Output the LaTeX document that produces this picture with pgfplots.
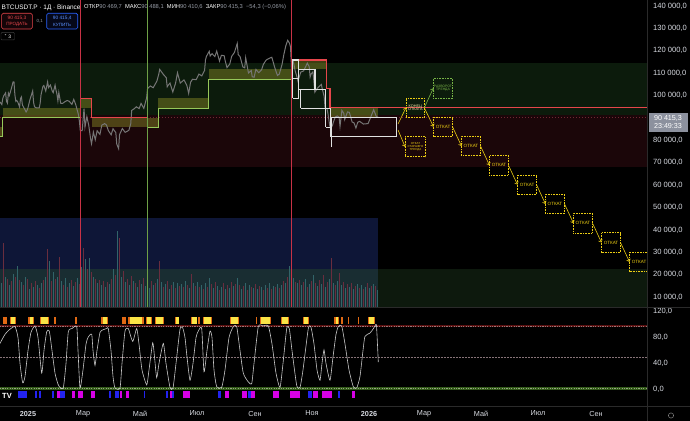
\documentclass[border=0pt]{standalone}
\usepackage{pgfplots}
\pgfplotsset{compat=1.18}
\usepackage{fontspec}
\setmainfont{Liberation Sans}
\newfontfamily\dejavu{DejaVu Sans}
\usetikzlibrary{arrows.meta}
\definecolor{zgreen}{RGB}{12,27,12}
\definecolor{zred}{RGB}{27,6,9}
\definecolor{zgreen2}{RGB}{13,25,13}
\definecolor{navy}{RGB}{14,22,55}
\definecolor{navyteal}{RGB}{25,45,50}
\definecolor{olive}{RGB}{150,150,40}
\definecolor{stepg}{RGB}{150,200,90}
\definecolor{stepr}{RGB}{230,70,75}
\definecolor{cand}{RGB}{118,118,118}
\definecolor{wbox}{RGB}{225,225,225}
\definecolor{yel}{RGB}{235,205,20}
\definecolor{grn}{RGB}{120,180,70}
\definecolor{vteal}{RGB}{50,100,105}
\definecolor{vred}{RGB}{105,45,62}
\definecolor{vlred}{RGB}{200,50,70}
\definecolor{vlgreen}{RGB}{110,160,70}
\definecolor{hmo}{RGB}{225,105,20}
\definecolor{hmy}{RGB}{250,228,70}
\definecolor{sblue}{RGB}{35,35,240}
\definecolor{smag}{RGB}{215,0,230}
\definecolor{lbl}{RGB}{215,218,225}
\definecolor{sepc}{RGB}{42,42,42}
\definecolor{oscline}{RGB}{200,200,200}
\definecolor{band}{RGB}{90,15,15}
\definecolor{gband}{RGB}{50,90,25}
\definecolor{hdrgrey}{RGB}{150,155,165}
\definecolor{pricebox}{RGB}{140,145,158}
\definecolor{pline}{RGB}{110,40,50}
\definecolor{bandd}{RGB}{150,120,120}
\definecolor{midd}{RGB}{135,115,120}
\definecolor{gbandd}{RGB}{150,165,130}
\definecolor{konec}{RGB}{245,235,170}
\definecolor{sellbg}{RGB}{20,5,8}
\definecolor{buyc}{RGB}{41,98,255}
\definecolor{buybg}{RGB}{5,8,25}
\definecolor{buyt}{RGB}{90,145,255}
\definecolor{smallb}{RGB}{60,60,60}
\definecolor{gearc}{RGB}{130,130,130}
\newcommand\fs[1]{\fontsize{#1}{#1}\selectfont}
\newcommand\frect[5]{\addplot[draw=none,fill=#1] coordinates {(#2,#4)(#3,#4)(#3,#5)(#2,#5)};}
\newcommand\orect[4]{\addplot[draw=none,fill=olive,fill opacity=0.42] coordinates {(#1,#3)(#2,#3)(#2,#4)(#1,#4)};}
\newcommand\brect[5]{\addplot[#1] coordinates {(#2,#4)(#3,#4)(#3,#5)(#2,#5)(#2,#4)};}
\newcommand\hbo[2]{\addplot[draw=none,fill=hmo] coordinates {(#1,101)(#2,101)(#2,112.3)(#1,112.3)};}
\newcommand\hby[2]{\addplot[draw=none,fill=hmy] coordinates {(#1,101)(#2,101)(#2,112.3)(#1,112.3)};}
\newcommand\sbb[2]{\addplot[draw=none,fill=sblue] coordinates {(#1,-2.6)(#2,-2.6)(#2,-13.5)(#1,-13.5)};}
\newcommand\sbm[2]{\addplot[draw=none,fill=smag] coordinates {(#1,-2.6)(#2,-2.6)(#2,-13.5)(#1,-13.5)};}
\tikzset{ybox/.style={yel,line width=0.7bp,dash pattern=on 0.8bp off 0.8bp},
 yarr/.style={yel,line width=0.6bp,-{Straight Barb[length=2.2bp,width=4bp]}}}
\begin{document}
\begin{tikzpicture}
\fill[black] (0bp,0bp) rectangle (690bp,421bp);
% ---------------- price pane ----------------
\begin{axis}[at={(0bp,114bp)},anchor=south west,scale only axis,width=647bp,height=307bp,
 xmin=-29.97,xmax=662.6,ymin=5625,ymax=142679,
 axis line style={draw=none},major tick length=0pt,xtick=\empty,
 yticklabel pos=right,scaled y ticks=false,
 ytick={10000,20000,30000,40000,50000,60000,70000,80000,100000,110000,120000,130000,140000},
 yticklabels={{10 000,0},{20 000,0},{30 000,0},{40 000,0},{50 000,0},{60 000,0},{70 000,0},{80 000,0},{100 000,0},{110 000,0},{120 000,0},{130 000,0},{140 000,0}},
 yticklabel style={anchor=west,inner sep=0pt,xshift=6bp,font=\fs{7.6},text=lbl}]
\frect{zgreen}{-30}{663}{91500}{114700}
\frect{zred}{-30}{663}{68100}{91500}
\frect{zgreen2}{-30}{663}{4000}{22600}
\addplot[pline,line width=0.5bp,dash pattern=on 1.5bp off 1.5bp] coordinates {(-30,90415)(663,90415)};
% olive bands
\orect{-30}{-26.8}{81700}{85800}
\orect{-26.8}{55.7}{90100}{94300}
\orect{55.7}{68.5}{94300}{98800}
\orect{68.5}{139.2}{85800}{90100}
\orect{139.2}{193.7}{94300}{98800}
\orect{193.7}{282.3}{107400}{111700}
\orect{282.3}{319.7}{111700}{115900}
\orect{323.3}{374.6}{90300}{94600}
% price (daily closes)
\addplot[cand,line width=1bp] coordinates {
(-30,97200)(-28,96000)(-27,98700)(-26,99900)(-24,101200)(-23,97400)(-22,96600)(-21,101100)(-20,100000)(-19,101400)
(-17,104400)(-16,106100)(-15,106100)(-14,100200)(-13,97400)(-12,97800)(-11,97200)(-9,94900)(-8,98700)(-7,99400)
(-6,95800)(-4,94300)(-2,92700)(-1,93400)(0,94600)(2,98100)(5,102100)(6,96900)(7,95000)(9,94500)
(12,94500)(13,96500)(14,100500)(16,104100)(17,104500)(19,102000)(21,106100)(22,103600)(24,104700)(26,102000)
(27,101300)(29,104700)(30,102400)(31,100600)(32,97700)(33,101400)(35,96600)(37,96500)(40,97400)(42,97800)
(44,97500)(47,96100)(49,98300)(51,96100)(54,91500)(55,88700)(56,84300)(58,84400)(60,94200)(61,86000)
(63,90600)(65,86800)(67,80700)(68,78500)(70,83700)(72,80300)(74,84300)(77,82700)(79,86800)(82,87500)
(84,86900)(86,84400)(89,82500)(91,85200)(94,83500)(95,78400)(97,76300)(98,82600)(101,85300)(104,83600)
(108,84500)(110,87500)(111,93400)(113,93900)(116,95000)(119,94200)(121,96500)(124,94300)(127,99000)(128,103200)
(131,104300)(134,103500)(138,106500)(140,109600)(141,111700)(145,109400)(148,108000)(149,103900)(150,104600)(152,105600)
(155,101600)(158,105600)(160,110200)(163,105600)(167,107000)(170,104600)(172,101000)(174,105900)(176,107300)(180,107100)
(183,109600)(186,108800)(189,111200)(190,116000)(191,117500)(194,119800)(195,117700)(197,118700)(200,117400)(202,119900)
(205,115400)(207,118000)(210,117800)(211,115700)(213,112500)(216,114100)(218,117500)(221,119300)(224,123300)(225,118300)
(227,117400)(230,112800)(232,112400)(233,116900)(236,110100)(239,111200)(240,108400)(242,108200)(244,111700)(247,110200)
(250,111500)(252,114000)(255,115900)(259,116800)(261,117100)(264,112700)(267,109000)(269,109600)(272,114000)(274,118600)
(276,122300)(278,124700)(280,123300)(281,121700)(282,113200)(284,115200)(286,111000)(288,108200)(289,106400)(292,110500)
(295,111000)(299,114500)(301,112900)(302,108300)(303,109600)(305,110600)(306,106500)(307,101500)(310,103400)(314,105000)
(315,103000)(317,99700)(318,94500)(320,94200)(321,92200)(323,86600)(324,85100)(326,86800)(327,88300)(329,90500)
(331,90900)(333,90400)(334,86300)(336,93400)(338,92100)(339,89300)(342,92700)(344,92500)(347,88200)(349,87800)
(351,85500)(353,88100)(355,88500)(359,87300)(364,87500)(367,90500)(370,93700)(373,90500)(375,90400)};
% step lines
\addplot[stepg,line width=1bp] coordinates {(-30,81700)(-26.8,81700)(-26.8,90100)(55.7,90100)};
\addplot[stepr,line width=1bp] coordinates {(55.7,98800)(68.5,98800)(68.5,90100)(127.4,90100)};
\addplot[stepg,line width=1bp] coordinates {(127.4,85800)(139.2,85800)(139.2,94300)(193.7,94300)(193.7,107400)(282.3,107400)};
\addplot[stepr,line width=1.4bp] coordinates {(282.3,115900)(319.7,115900)(319.7,103300)(323.3,103300)(323.3,94600)(663,94600)};
% white boxes
\brect{wbox,line width=1.3bp}{283.3}{289.3}{98800}{115900}
\addplot[wbox,line width=1.3bp] coordinates {(283.3,107700)(289.3,107700)};
\brect{wbox,line width=1.3bp}{289.3}{307.2}{102800}{111700}
\brect{wbox,line width=1.3bp}{291.9}{318.7}{94300}{102800}
\brect{wbox,line width=1.3bp}{318.7}{324.0}{85850}{94300}
\brect{wbox,line width=1.3bp}{324.0}{394.7}{81650}{90300}
\addplot[wbox,line width=1.3bp] coordinates {(325.1,90300)(325.1,77200)};
% projection boxes
\brect{ybox}{404.6}{424.2}{90313}{98795}
\brect{grn,line width=0.7bp,dash pattern=on 0.8bp off 0.8bp}{433.8}{454.6}{98795}{107723}
\brect{ybox}{403.6}{425.0}{72723}{81652}
\brect{ybox}{434.1}{454.4}{81741}{90446}
\brect{ybox}{464.0}{484.4}{73125}{81830}
\brect{ybox}{494.0}{514.3}{64509}{73214}
\brect{ybox}{524.0}{544.3}{55893}{64598}
\brect{ybox}{553.9}{574.3}{47277}{55982}
\brect{ybox}{583.9}{604.3}{38661}{47366}
\brect{ybox}{613.9}{634.2}{30045}{38750}
\brect{ybox}{643.9}{664.2}{21429}{30134}
% arrows
\addplot[yarr] coordinates {(396.1,87321)(404.6,94553)};
\addplot[yarr] coordinates {(396.1,84643)(403.6,77187)};
\addplot[grn,line width=0.6bp,-{Straight Barb[length=2.2bp,width=4bp]}] coordinates {(424.2,94553)(433.8,103259)};
\addplot[yarr] coordinates {(424.2,94553)(434.1,86094)};
\addplot[yarr] coordinates {(454.4,86094)(464.0,77478)};
\addplot[yarr] coordinates {(484.4,77478)(494.0,68862)};
\addplot[yarr] coordinates {(514.3,68862)(524.0,60246)};
\addplot[yarr] coordinates {(544.3,60246)(553.9,51630)};
\addplot[yarr] coordinates {(574.3,51630)(583.9,43013)};
\addplot[yarr] coordinates {(604.3,43013)(613.9,34397)};
\addplot[yarr] coordinates {(634.2,34397)(643.9,25781)};
\node[align=center,font=\fs{3.8},text=konec,inner sep=0] at (axis cs:414.6,94553) {КОНЕЦ\\ОТКАТА};
\node[align=center,font=\fs{3.4},text=grn,inner sep=0] at (axis cs:444.2,103260) {РАЗВОРОТ\\ТРЕНДА};
\node[align=center,font=\fs{2.9},text=yel,inner sep=0] at (axis cs:414.8,77100) {ОТКАТ\\СТАРШЕГО\\ТРЕНДА};
\node[anchor=west,font=\fs{4.6},text=yel,inner sep=0] at (axis cs:436.3,86094) {ОТКАТ};
\node[anchor=west,font=\fs{4.6},text=yel,inner sep=0] at (axis cs:466.2,77478) {ОТКАТ};
\node[anchor=west,font=\fs{4.6},text=yel,inner sep=0] at (axis cs:496.2,68862) {ОТКАТ};
\node[anchor=west,font=\fs{4.6},text=yel,inner sep=0] at (axis cs:526.2,60246) {ОТКАТ};
\node[anchor=west,font=\fs{4.6},text=yel,inner sep=0] at (axis cs:556.1,51630) {ОТКАТ};
\node[anchor=west,font=\fs{4.6},text=yel,inner sep=0] at (axis cs:586.1,43013) {ОТКАТ};
\node[anchor=west,font=\fs{4.6},text=yel,inner sep=0] at (axis cs:616.1,34397) {ОТКАТ};
\node[anchor=west,font=\fs{4.6},text=yel,inner sep=0] at (axis cs:646.1,25781) {ОТКАТ};
\end{axis}
% ---------------- volume overlay (pixel units) ----------------
\begin{axis}[at={(0bp,114bp)},anchor=south west,scale only axis,width=647bp,height=307bp,
 xmin=0,xmax=647,ymin=0,ymax=307,hide axis]
\frect{navy}{0}{378}{38}{89}
\frect{navyteal}{0}{378}{0}{38}
\addplot[ycomb,vteal,line width=0.9bp] coordinates {(1,24)(5,30)(9,22)(13,33)(17,41)(21,25)(25,30)(29,18)(33,20)(37,22)(41,24)(45,30)(49,46)(53,35)(57,30)(61,26)(65,29)(69,24)(73,21)(77,29)(81,40)(85,48)(89,49)(93,30)(97,24)(101,22)(105,20)(109,23)(113,38)(117,76)(121,30)(125,25)(129,22)(133,26)(137,20)(141,23)(145,21)(149,19)(153,22)(157,28)(161,25)(165,23)(169,18)(173,25)(177,24)(181,23)(185,26)(189,19)(193,24)(197,25)(201,22)(205,24)(209,29)(213,19)(217,21)(221,20)(225,18)(229,19)(233,21)(237,29)(241,18)(245,24)(249,22)(253,19)(257,18)(261,20)(265,22)(269,24)(273,21)(277,23)(281,22)(285,24)(289,41)(293,29)(297,24)(301,22)(305,28)(309,23)(313,32)(317,21)(321,23)(325,20)(329,28)(333,24)(337,26)(341,22)(345,19)(349,20)(353,18)(357,23)(361,22)(365,20)(369,19)(373,23)(377,17)};
\addplot[ycomb,vred,line width=0.9bp] coordinates {(3,64)(7,28)(11,26)(15,30)(19,27)(23,22)(27,28)(31,24)(35,26)(39,19)(43,27)(47,58)(51,26)(55,28)(59,50)(63,22)(67,20)(71,27)(75,25)(79,23)(83,59)(87,38)(91,35)(95,28)(99,27)(103,26)(107,25)(111,28)(115,32)(119,69)(123,36)(127,28)(131,31)(135,24)(139,27)(143,29)(147,25)(151,26)(155,24)(159,46)(163,20)(167,26)(171,22)(175,19)(179,21)(183,20)(187,22)(191,33)(195,21)(199,20)(203,18)(207,20)(211,23)(215,25)(219,17)(223,24)(227,22)(231,25)(235,23)(239,22)(243,21)(247,17)(251,20)(255,23)(259,21)(263,17)(267,19)(271,18)(275,20)(279,19)(283,26)(287,30)(291,36)(295,25)(299,27)(303,25)(307,20)(311,26)(315,24)(319,27)(323,32)(327,25)(331,49)(335,22)(339,34)(343,25)(347,23)(351,24)(355,21)(359,19)(363,18)(367,24)(371,21)(375,21)};
\addplot[vlred,line width=0.8bp] coordinates {(80.3,0)(80.3,307)};
\addplot[vlgreen,line width=0.8bp] coordinates {(147.3,0)(147.3,307)};
\addplot[vlred,line width=0.8bp] coordinates {(291.7,0)(291.7,307)};
\end{axis}
% ---------------- oscillator pane (pixel x units) ----------------
\begin{axis}[at={(0bp,15bp)},anchor=south west,scale only axis,width=647bp,height=99bp,
 xmin=0,xmax=647,ymin=-25.8,ymax=127.3,
 axis line style={draw=none},major tick length=0pt,
 yticklabel pos=right,
 xtick={28,83.1,140.1,197.1,255.0,312.0,369.0,424.1,481.1,538.1,596.0},
 xticklabels={\textbf{2025},Мар,Май,Июл,Сен,Ноя,\textbf{2026},Мар,Май,Июл,Сен},
 xticklabel style={anchor=center,yshift=-7.5bp,inner sep=0pt,font=\fs{7.3},text=lbl},
 ytick={0,40,80,120},yticklabels={{0,0},{40,0},{80,0},{120,0}},
 yticklabel style={anchor=west,inner sep=0pt,xshift=6bp,font=\fs{7.6},text=lbl}]
\hbo{2.7}{6.7}\hbo{10}{16}\hbo{28.3}{34}\hbo{40}{49.3}\hbo{54.3}{55.7}\hbo{75}{76.7}\hbo{101}{107.7}
\hbo{121.7}{126}\hbo{127.7}{144}\hbo{145.7}{152}\hbo{155}{164}\hbo{175}{179.3}\hbo{190.7}{197.3}
\hbo{198.3}{200.3}\hbo{203.3}{212}\hbo{230}{238.7}\hbo{255.7}{257}\hbo{259.7}{271}\hbo{281}{288.7}
\hbo{302.7}{309}\hbo{334.3}{339.3}\hbo{341}{343}\hbo{347.7}{349}\hbo{357.7}{359.3}\hbo{367.7}{375}
\hby{11}{15}\hby{30}{32.7}\hby{41}{48.3}\hby{102.7}{106.7}\hby{130}{141.7}\hby{146.7}{150.7}
\hby{156}{162.7}\hby{175.7}{178.7}\hby{192.3}{196.7}\hby{204.3}{211}\hby{231}{237.7}\hby{261}{270}
\hby{282}{287.7}\hby{303.7}{308.3}\hby{336}{338.3}\hby{368.7}{374}
\addplot[band,line width=2bp] coordinates {(0,98)(647,98)};
\addplot[bandd,line width=0.5bp,dash pattern=on 1.2bp off 1.2bp] coordinates {(0,98)(647,98)};
\addplot[midd,line width=0.5bp,dash pattern=on 1.5bp off 1.5bp] coordinates {(0,50)(647,50)};
\addplot[gband,line width=2.4bp] coordinates {(0,1.5)(647,1.5)};
\addplot[gbandd,line width=0.5bp,dash pattern=on 1.2bp off 1.2bp] coordinates {(0,1.5)(647,1.5)};
\addplot[oscline,line width=0.6bp,smooth,tension=0.35] coordinates {
(0,71)(5,85)(10,93)(15,97)(18,80)(20,40)(22.7,10)(25,20)(28,60)(31,88)(35,98)(38,80)(41.7,25)(44,60)(46.7,89)(49.3,90)
(52,60)(55,25)(58,8)(60,3)(63.3,2)(66,40)(68.3,89)(72,94)(76.7,97)(78,60)(80,2)(83,30)(86,70)(88.3,81)(91.7,85)(93,60)
(95,37)(97,60)(100,88)(103,92)(106.7,94)(108.3,94)(111,60)(113,20)(115,2)(120,2)(122,40)(125,90)(128.3,94)(132.7,74)
(136.7,94)(139,70)(142,30)(146.7,7)(149,30)(152.7,72)(154.5,50)(156.7,18)(159,40)(163.3,71)(166,40)(170,3)(173,2)
(176,40)(180,93)(182.7,95)(185,80)(187,50)(190,14)(193,40)(196,80)(198.3,90)(201.7,94)(204,27)(207,60)(210,90)(212,80)
(214,30)(216.7,4)(221.7,3)(225,30)(229,80)(233.3,97)(236.7,97)(240,60)(243.3,25)(248,12)(251.7,9)(254,40)(258.3,97)
(263,98)(268.3,98)(272,70)(276,25)(280,3)(283,40)(286.7,94)(289.3,94)(292,60)(296.7,6)(300,3)(303,30)(308.3,94)(311,96)
(314,70)(317,30)(320,14)(322,40)(324,61)(326,40)(330,14)(333,50)(336,85)(338.3,97)(341.7,98)(345,70)(349,30)(353.3,4)
(356.7,2)(360,20)(363,60)(365,82)(370,87)(373,93)(375,98)(376.5,98)(378.3,42)};
\sbb{17.5}{27}\sbb{35}{36.7}\sbb{39.3}{40.5}\sbb{51.7}{54}\sbb{60}{65.3}\sbb{109.3}{110.7}\sbb{115}{119}
\sbb{144}{145}\sbb{165.7}{167.7}\sbb{172}{174}\sbb{218.3}{220.5}\sbb{248.3}{250.5}\sbb{308.3}{311.7}\sbb{338.3}{340}
\sbm{57.3}{60}\sbm{71.7}{74.5}\sbm{78.3}{82.7}\sbm{90.7}{95}\sbm{120}{122}\sbm{126}{128.7}\sbm{170}{171.5}
\sbm{183.3}{190}\sbm{225}{229.3}\sbm{242}{246.5}\sbm{250.5}{255}\sbm{273.3}{279.3}\sbm{290}{300}\sbm{312.7}{318.3}
\sbm{321.7}{331.7}\sbm{351.7}{355}
\end{axis}
% ---------------- frame and header ----------------
\begin{scope}[x=1bp,y=1bp]
\draw[sepc,line width=0.7bp] (0,114)--(690,114) (0,15)--(690,15) (647,0)--(647,421);
\fill[pricebox] (648.5,308.3) rectangle (687.5,289.3);
\node[font=\fs{7.2},text=white,inner sep=0] at (668,303) {90 415,3};
\node[font=\fs{7.2},text=white,inner sep=0] at (668,294.5) {23:49:33};
\node[anchor=west,inner sep=0,font=\fs{6.5},text=white] at (1.5,413.5) {BTCUSDT.P · 1Д · Binance};
\node[anchor=west,inner sep=0,font=\fs{5.8}] at (84,413.5) {\textcolor{white}{ОТКР}\textcolor{hdrgrey}{90 469,7}\ \ \textcolor{white}{МАКС}\textcolor{hdrgrey}{90 488,1}\ \ \textcolor{white}{МИН}\textcolor{hdrgrey}{90 410,6}\ \ \textcolor{white}{ЗАКР}\textcolor{hdrgrey}{90 415,3}\ \ \textcolor{hdrgrey}{−54,3 (−0,06\%)}};
\draw[stepr,line width=0.6bp,rounded corners=1.5bp,fill=sellbg] (1.7,407.7) rectangle (32.3,392);
\node[font=\fs{4.8},text=stepr,inner sep=0] at (17,403) {90 415,3};
\node[font=\fs{4.6},text=stepr,inner sep=0] at (17,396.5) {ПРОДАТЬ};
\node[font=\fs{4.5},text=hdrgrey,inner sep=0] at (39.7,400) {0,1};
\draw[buyc,line width=0.6bp,rounded corners=1.5bp,fill=buybg] (46.7,407.7) rectangle (77.7,392);
\node[font=\fs{4.8},text=buyt,inner sep=0] at (62.2,403) {90 415,4};
\node[font=\fs{4.6},text=buyt,inner sep=0] at (62.2,396.5) {КУПИТЬ};
\draw[smallb,line width=0.5bp,rounded corners=1bp] (1,388.5) rectangle (14.5,381);
\node[font=\fs{5},text=white,inner sep=0] at (7.8,384.7) {{\dejavu ˅} 3};
\node[anchor=west,font=\bfseries\fs{7.5},text=white,inner sep=0] at (2,25.5) {TV};
\draw[gearc,line width=0.5bp] (671,5.5) circle (2.6);
\end{scope}
\pgfresetboundingbox
\path[use as bounding box] (0bp,0bp) rectangle (690bp,421bp);
\end{tikzpicture}
\end{document}
